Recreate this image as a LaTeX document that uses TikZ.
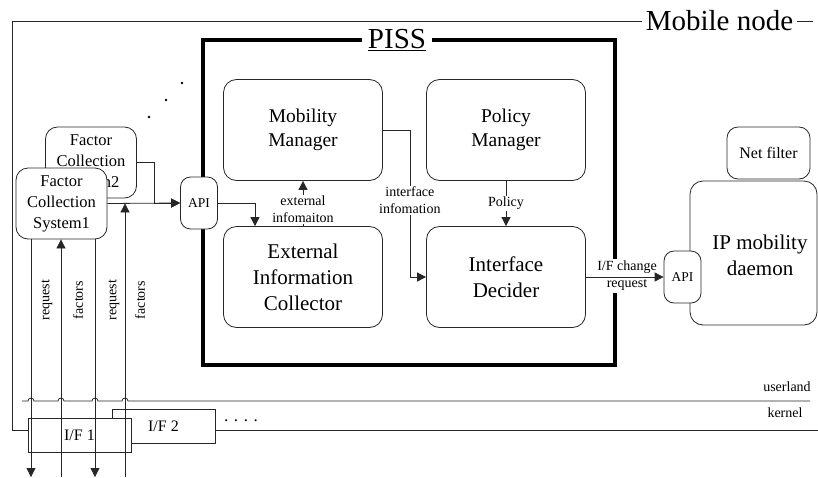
\documentclass[tikz,border=0pt]{standalone}
\usepackage{fontspec}
\setmainfont{Liberation Serif}
\usetikzlibrary{arrows.meta}
\tikzset{line/.style={draw=black!85,line width=0.8pt},
    rbox/.style={line,fill=white,rounded corners=13pt,align=center,
        minimum width=159pt,minimum height=101pt,inner sep=2pt},
    bigtxt/.style={font=\fontsize{21}{26}\selectfont},
    mgrtxt/.style={font=\fontsize{19.5}{24}\selectfont},
    fcsbox/.style={line,fill=white,rounded corners=12pt,align=center,
        minimum width=91pt,minimum height=71pt,inner sep=1pt,
        font=\fontsize{16.5}{21}\selectfont},
    apibox/.style={line,fill=white,rounded corners=10pt,inner sep=0pt,
        minimum width=37pt,minimum height=52pt,font=\fontsize{13.5}{16}\selectfont},
    ifbox/.style={line,fill=white,minimum width=103pt,minimum height=34pt,
        font=\fontsize{16}{19}\selectfont},
    lbl/.style={fill=white,align=center,inner sep=1pt,font=\fontsize{14}{17}\selectfont},
    vlbl/.style={rotate=90,inner sep=0pt,font=\fontsize{14}{17}\selectfont},
    arr/.style={line,-{Triangle[length=9pt,width=9pt]}},
    }
\begin{document}
\begin{tikzpicture}[x=1pt,y=-1pt]
\useasboundingbox (0,0) rectangle (818,477);
% mobile node frame
\draw[line] (813,21) -- (12,21) -- (12,430) -- (40,430);
\node[fill=white,inner sep=4pt,font=\fontsize{29}{32}\selectfont] (mobile) at (719.5,21) {Mobile node};
\draw[line] (22,401) \foreach \h in {31,61,95,125} { -- (\h-3,401) arc[start angle=180,end angle=360,radius=3] } -- (810,401);
\node[font=\fontsize{14}{17}\selectfont] (user) at (787,387) {userland};
\node[font=\fontsize{14}{17}\selectfont] (kern) at (785,413) {kernel};
% PISS
\draw[line width=4pt] (203,40) rectangle (615,365);
\node[fill=white,inner sep=6pt,font=\fontsize{29}{32}\selectfont] (piss) at (397,40) {\underline{PISS}};
\node[rbox,mgrtxt] (mm) at (303,130) {Mobility\\Manager};
\node[rbox,mgrtxt] (pm) at (506,130) {Policy\\Manager};
\node[rbox,bigtxt] (eic) at (303,277) {External\\Information\\Collector};
\node[rbox,bigtxt] (id) at (506,277) {Interface\\Decider};
% factor collection
\node[fcsbox] (fcs2) at (91,162.5) {Factor\\Collection\\System2};
\node[fcsbox] (fcs1) at (61.5,203.5) {Factor\\Collection\\System1};
\node[apibox] (api1) at (199,203) {API};
% mobility daemon
\node[rbox,minimum width=127pt,minimum height=144pt] (ipd) at (753.5,253) {};
\node[bigtxt,align=center] (ipdtxt) at (760,255) {IP mobility\\daemon};
\node[apibox] (api2) at (682.5,277) {API};
\node[rbox,minimum width=83pt,minimum height=52pt,rounded corners=11pt,
    font=\fontsize{16}{19}\selectfont] (nf) at (768.5,153) {Net filter};
% interfaces
\node[ifbox] (if2) at (163.5,426) {I/F 2};
\node[ifbox] (if1) at (79.5,435) {I/F 1};
\draw[line] (if1.west |- 0,430) -- (12,430);
\draw[line] (if2.east |- 0,430) -- (818,430);
\node[font=\fontsize{17}{20}\selectfont] (ifdots) at (241,421) {. . . .};
\draw[arr] (fcs1.south -| 31,0) -- (31,477);
\draw[arr] (61,477) -- (fcs1.south -| 61,0);
\draw[arr] (fcs1.south -| 95,0) -- (95,477);
\draw[arr] (125,477) -- ([yshift=-5pt]fcs2.south -| 125,0);
\foreach \x/\t [count=\i] in {47/request,78/factors,114/request,140/factors}
    \node[vlbl] (v\i) at (\x,300) {\t};
\draw[arr] (fcs1.east) -- (api1.west);
\draw[arr] (fcs2.east) -- ++(17,0) |- (api1.west);
% inside PISS
\draw[arr] (api1.east) -| ([xshift=-48pt]eic.north);
\draw[arr] (eic.north) -- (mm.south) node[lbl,pos=0.37] (extlbl) {external\\infomaiton};
\draw[arr] (mm.east) -- ++(27,0) |- (id.west) node[lbl,pos=0.24] (iflbl) {interface\\infomation};
\draw[arr] (pm.south) -- (id.north) node[lbl,midway] (pollbl) {Policy};
\node[lbl,inner sep=2pt] (chglbl) at (627,276) {I/F change\\request};
\draw[arr] (id.east) -- (api2.west);
\foreach \p in {(149,117),(166,100),(182,83)}
    \fill \p circle (1.3pt);
\end{tikzpicture}
\end{document}
